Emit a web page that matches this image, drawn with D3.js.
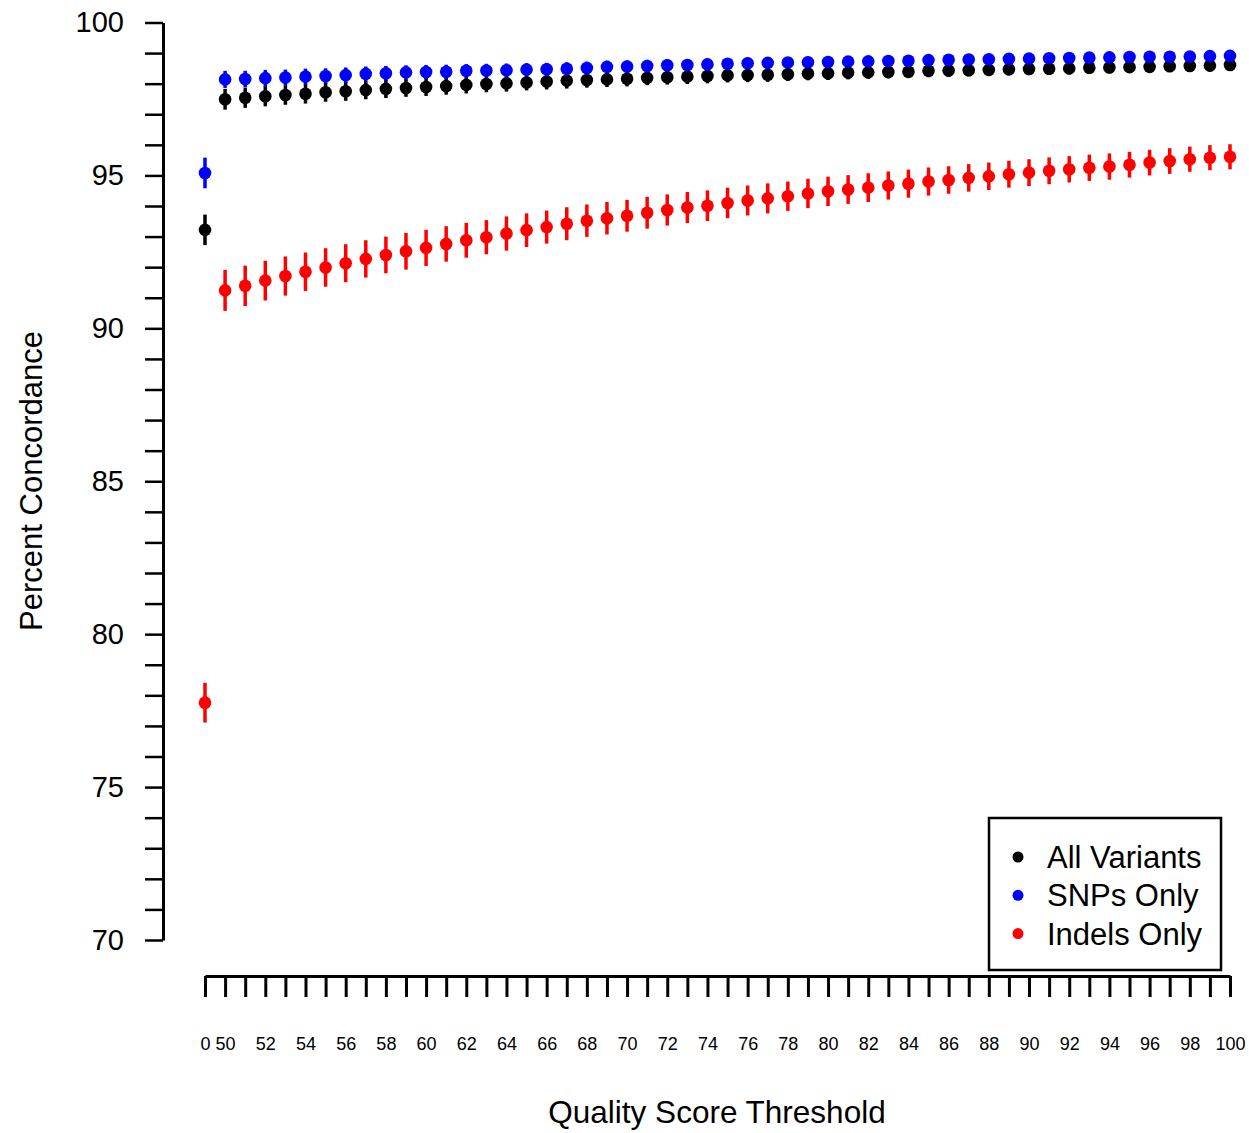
<!DOCTYPE html>
<html>
<head>
<meta charset="utf-8">
<script src="https://cdn.jsdelivr.net/npm/d3@7"></script>
<style>
  body { margin: 0; background: #fff; }
  text { font-family: "Liberation Sans", Arial, sans-serif; fill: #000; }
</style>
</head>
<body>
<div id="chart-area"></div>
<script>
// Quality score thresholds (x categories)
const thresholds = [0, 50, 51, 52, 53, 54, 55, 56, 57, 58, 59, 60, 61, 62, 63, 64, 65, 66, 67, 68, 69,
  70, 71, 72, 73, 74, 75, 76, 77, 78, 79, 80, 81, 82, 83, 84, 85, 86, 87, 88, 89,
  90, 91, 92, 93, 94, 95, 96, 97, 98, 99, 100]
const xLabels = [0, 50, 52, 54, 56, 58, 60, 62, 64, 66, 68, 70, 72, 74, 76, 78, 80, 82, 84, 86, 88, 90, 92, 94, 96, 98, 100]
const yTicks = [70, 71, 72, 73, 74, 75, 76, 77, 78, 79, 80, 81, 82, 83, 84, 85, 86, 87, 88, 89, 90,
  91, 92, 93, 94, 95, 96, 97, 98, 99, 100]
const yLabels = [70, 75, 80, 85, 90, 95, 100]

// Percent concordance, per threshold
const allVariants = [93.22, 97.49, 97.54, 97.59, 97.63, 97.67, 97.72, 97.75, 97.79, 97.83, 97.86,
  97.89, 97.92, 97.96, 97.99, 98.01, 98.04, 98.07, 98.10, 98.12, 98.14,
  98.16, 98.19, 98.21, 98.23, 98.25, 98.27, 98.28, 98.29, 98.31, 98.33,
  98.34, 98.36, 98.37, 98.38, 98.39, 98.42, 98.43, 98.44, 98.45, 98.47,
  98.48, 98.49, 98.50, 98.52, 98.53, 98.54, 98.55, 98.57, 98.58, 98.59, 98.61]
const snpsOnly = [95.08, 98.14, 98.15, 98.18, 98.20, 98.23, 98.25, 98.28, 98.32, 98.34, 98.37,
  98.38, 98.39, 98.42, 98.43, 98.44, 98.46, 98.47, 98.49, 98.51, 98.55,
  98.56, 98.58, 98.60, 98.61, 98.63, 98.65, 98.67, 98.68, 98.69, 98.70,
  98.71, 98.72, 98.73, 98.74, 98.75, 98.77, 98.78, 98.79, 98.80, 98.81,
  98.82, 98.83, 98.84, 98.85, 98.86, 98.87, 98.88, 98.88, 98.89, 98.90, 98.91]
const indelsOnly = [77.76, 91.24, 91.39, 91.56, 91.71, 91.85, 91.99, 92.13, 92.27, 92.40, 92.52,
  92.63, 92.76, 92.88, 92.98, 93.10, 93.21, 93.31, 93.42, 93.52, 93.60,
  93.68, 93.78, 93.87, 93.95, 94.01, 94.10, 94.18, 94.25, 94.32, 94.41,
  94.48, 94.54, 94.60, 94.67, 94.73, 94.80, 94.85, 94.92, 94.97, 95.04,
  95.09, 95.15, 95.20, 95.25, 95.29, 95.35, 95.42, 95.47, 95.53, 95.58, 95.61]

// Error bar half-widths
const allErr = [0.5, 0.34, 0.33, 0.33, 0.32, 0.32, 0.31, 0.31, 0.30, 0.30, 0.29,
  0.29, 0.28, 0.28, 0.27, 0.27, 0.26, 0.26, 0.26, 0.25, 0.25,
  0.25, 0.24, 0.24, 0.24, 0.24, 0.23, 0.23, 0.23, 0.22, 0.22,
  0.22, 0.22, 0.21, 0.21, 0.21, 0.21, 0.21, 0.20, 0.20, 0.20,
  0.20, 0.20, 0.20, 0.19, 0.19, 0.19, 0.19, 0.19, 0.19, 0.19, 0.19]
const snpErr = [0.5, 0.28, 0.27, 0.27, 0.26, 0.26, 0.25, 0.25, 0.24, 0.24, 0.23,
  0.23, 0.23, 0.22, 0.22, 0.22, 0.21, 0.21, 0.21, 0.21, 0.20,
  0.20, 0.20, 0.20, 0.19, 0.19, 0.19, 0.19, 0.18, 0.18, 0.18,
  0.18, 0.18, 0.17, 0.17, 0.17, 0.17, 0.17, 0.17, 0.16, 0.16,
  0.16, 0.16, 0.16, 0.16, 0.16, 0.15, 0.15, 0.15, 0.15, 0.15, 0.15]
const indelErr = [0.65, 0.67, 0.66, 0.65, 0.64, 0.63, 0.63, 0.62, 0.61, 0.60, 0.60,
  0.59, 0.58, 0.57, 0.56, 0.56, 0.55, 0.54, 0.54, 0.53, 0.53,
  0.52, 0.52, 0.51, 0.51, 0.50, 0.50, 0.49, 0.49, 0.48, 0.48,
  0.48, 0.47, 0.47, 0.46, 0.46, 0.46, 0.45, 0.45, 0.45, 0.44,
  0.44, 0.44, 0.43, 0.43, 0.43, 0.42, 0.42, 0.42, 0.41, 0.41, 0.41]

const seriesNames = ["All Variants", "SNPs Only", "Indels Only"]
const seriesColors = ["#000000", "#0000ff", "#ff0000"]

const W = 1249
const H = 1133

const svg = d3.select("#chart-area").append("svg")
  .attr("width", W)
  .attr("height", H)

const x = d3.scalePoint()
  .domain(thresholds)
  .range([205, 1230])

const y = d3.scaleLinear()
  .domain([70, 100])
  .range([940, 22.5])

// Y axis
const yAxis = svg.append("g")
  .attr("transform", "translate(163, 0)")
  .call(d3.axisLeft(y)
    .tickValues(yTicks)
    .tickSize(18)
    .tickSizeOuter(0)
    .tickPadding(21)
    .tickFormat(d => yLabels.includes(d) ? d : ""))
yAxis.select(".domain").attr("stroke-width", 3)
yAxis.selectAll(".tick line").attr("stroke-width", 2.5)
yAxis.selectAll(".tick text")
  .attr("font-size", "29px")
  .attr("font-family", "Liberation Sans, Arial, sans-serif")

// X axis
const xAxis = svg.append("g")
  .attr("transform", "translate(0, 976)")
  .call(d3.axisBottom(x)
    .tickSize(21)
    .tickSizeOuter(0)
    .tickPadding(40)
    .tickFormat(d => xLabels.includes(d) ? d : ""))
xAxis.select(".domain").attr("stroke-width", 3)
xAxis.selectAll(".tick line").attr("stroke-width", 3)
xAxis.selectAll(".tick text")
  .attr("font-size", "18px")
  .attr("font-family", "Liberation Sans, Arial, sans-serif")

// Axis titles
svg.append("text")
  .attr("x", 717)
  .attr("y", 1123)
  .attr("font-size", "31.5px")
  .attr("text-anchor", "middle")
  .text("Quality Score Threshold")

svg.append("text")
  .attr("transform", "translate(42, 481) rotate(-90)")
  .attr("font-size", "31px")
  .attr("text-anchor", "middle")
  .text("Percent Concordance")

// Points with error bars
const seriesValues = [allVariants, snpsOnly, indelsOnly]
const seriesErr = [allErr, snpErr, indelErr]

seriesValues.forEach((vals, s) => {
  const data = thresholds.map((t, i) => ({ t: t, v: vals[i], e: seriesErr[s][i] }))
  const g = svg.append("g")
  g.selectAll("line")
    .data(data)
    .enter().append("line")
    .attr("x1", d => x(d.t))
    .attr("x2", d => x(d.t))
    .attr("y1", d => y(d.v - d.e))
    .attr("y2", d => y(d.v + d.e))
    .attr("stroke", seriesColors[s])
    .attr("stroke-width", 3.5)
  g.selectAll("circle")
    .data(data)
    .enter().append("circle")
    .attr("cx", d => x(d.t))
    .attr("cy", d => y(d.v))
    .attr("r", 6.3)
    .attr("fill", seriesColors[s])
})

// Legend
const legend = svg.append("g")
legend.append("rect")
  .attr("x", 989)
  .attr("y", 818)
  .attr("width", 232)
  .attr("height", 152)
  .attr("fill", "#fff")
  .attr("stroke", "#000")
  .attr("stroke-width", 2.5)

seriesNames.forEach((name, i) => {
  legend.append("circle")
    .attr("cx", 1018)
    .attr("cy", 857 + i * 38.3)
    .attr("r", 5.5)
    .attr("fill", seriesColors[i])
  legend.append("text")
    .attr("x", 1047)
    .attr("y", 857 + i * 38.3)
    .attr("dy", "0.36em")
    .attr("font-size", "31px")
    .text(name)
})
</script>
</body>
</html>
